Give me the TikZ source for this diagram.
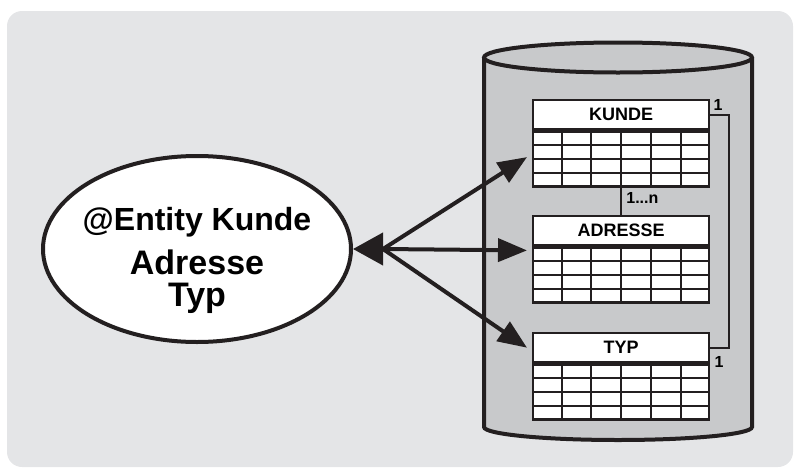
\documentclass[tikz,border=0pt]{standalone}
\usepackage{fontspec}
\setmainfont{Liberation Sans}
\usetikzlibrary{arrows.meta,shapes.geometric,calc}

\definecolor{panel}{HTML}{E4E5E7}
\definecolor{drum}{HTML}{C8C9CB}
\definecolor{ink}{HTML}{231F20}

\tikzset{
  tabhead/.style={draw=ink, line width=1.2pt, fill=white, minimum width=88pt,
    minimum height=14.5pt, inner sep=0pt, font=\bfseries\fontsize{9}{10}\selectfont},
  tabbody/.style={draw=ink, line width=1.2pt, fill=white, minimum width=88pt,
    minimum height=27.5pt, inner sep=0pt},
  tabline/.style={draw=ink, line width=1pt},
  relline/.style={draw=ink, line width=1pt},
  card/.style={inner sep=0pt, font=\bfseries\fontsize{8}{9}\selectfont},
  entity/.style={ellipse, draw=ink, line width=2pt, fill=white, minimum width=154pt,
    minimum height=93pt, inner sep=0pt},
  entlabel/.style={align=center, inner sep=0pt, font=\bfseries\fontsize{17}{16}\selectfont},
  link/.style={draw=ink, line width=2pt, -{Triangle[length=14.5pt,width=11.5pt]}},
  bighead/.style={draw=ink, line width=2pt, -{Triangle[length=15pt,width=16pt]}},
  drumline/.style={draw=ink, line width=2pt}
}

% table: name, left x, top y, title
\newcommand{\dbtable}[4]{%
  \node[tabhead, anchor=north west] (#1) at (#2,#3) {#4};
  \node[tabbody, anchor=north west] (#1body) at (#1.south west) {};
  \foreach \i in {1,...,5}
    \draw[tabline] ($(#1body.north west)!\i/6!(#1body.north east)$) -- ($(#1body.south west)!\i/6!(#1body.south east)$);
  \foreach \j in {1,2,3}
    \draw[tabline] ($(#1body.north west)!\j/4!(#1body.south west)$) -- ($(#1body.north east)!\j/4!(#1body.south east)$);
}

\begin{document}
\begin{tikzpicture}[x=0.5pt,y=0.5pt]
\useasboundingbox (0,0) rectangle (794,468);
\fill[panel, rounded corners=7.5pt] (7,1) rectangle (793,457);

% database drum
\fill[drum] (484,410.5) -- (484,41) arc[start angle=180, end angle=360, x radius=134, y radius=13]
  -- (752,410.5) arc[start angle=0, end angle=180, x radius=134, y radius=15] -- cycle;
\draw[drumline] (484,410.5) -- (484,41) arc[start angle=180, end angle=360, x radius=134, y radius=13]
  -- (752,410.5);
\draw[drumline] (618,410.5) ellipse[x radius=134, y radius=15];

% tables
\dbtable{kunde}{532}{369}{KUNDE}
\dbtable{adresse}{532}{253}{ADRESSE}
\dbtable{typ}{532}{136}{TYP}

% relations
\draw[relline] (kundebody.south) -- (adresse.north);
\node[card, anchor=west] (many) at (626,270.5) {1...n};
\draw[relline] (kunde.east) -| ([xshift=9.5pt]typ.east) -- (typ.east);
\node[card] (onek) at (718,363.3) {1};
\node[card] (onet) at (719,106.5) {1};

% entity
\node[entity] (ent) at (197,219) {};
\node[entlabel] (entname) at (197,208) {{\fontsize{16}{16}\selectfont @Entity Kunde}\\[6pt]Adresse\\Typ};

% mapping arrows, fanning out from one point
\coordinate (hub) at ([xshift=15pt]ent.east);
\coordinate (tokunde) at ([xshift=-2.5pt,yshift=1pt]kundebody.west);
\coordinate (toadresse) at ([xshift=-2.5pt,yshift=-2pt]adresse.south west);
\coordinate (totyp) at ([xshift=-2.5pt]typ.west);
\draw[link] (hub) -- (tokunde);
\draw[link] (hub) -- (toadresse);
\draw[link] (hub) -- (totyp);
\draw[bighead] (hub) -- (ent.east);
\end{tikzpicture}
\end{document}
